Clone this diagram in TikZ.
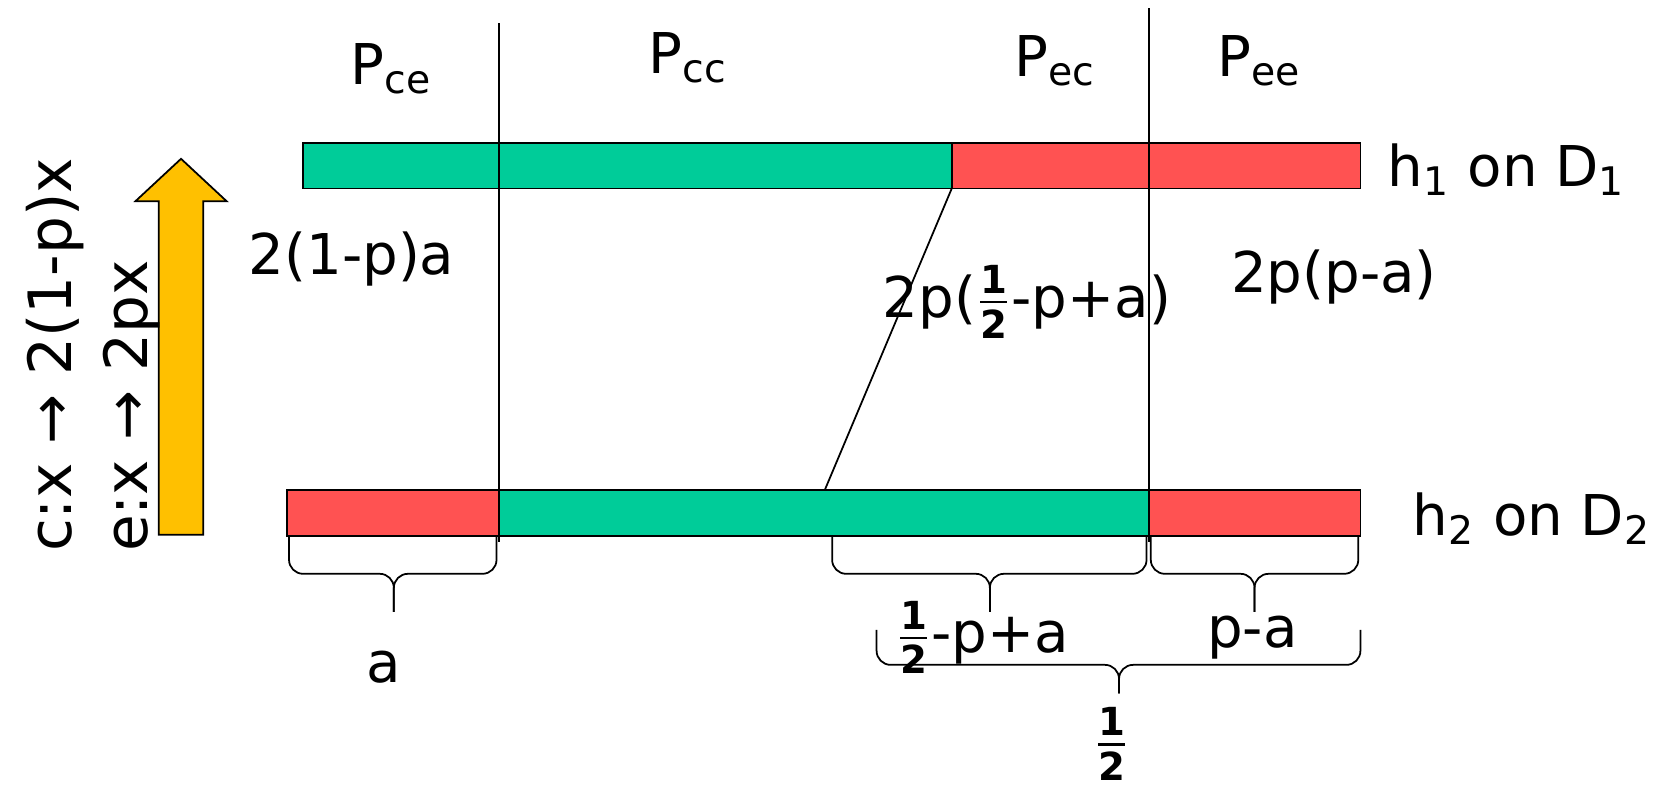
\documentclass[tikz,border=0pt]{standalone}
\usepackage{fontspec}
\setmainfont{DejaVu Sans}
\usepackage{amsmath}
\usetikzlibrary{positioning, calc}

% fraccion 1/2 en el tipo del texto
\newcommand{\halfsym}{$\frac{\text{\fontsize{11}{11}\selectfont\bfseries 1}}{\text{\fontsize{11}{11}\selectfont\bfseries 2}}$}

\begin{document}
\begin{tikzpicture}[x=0.010587cm, y=-0.010587cm, font=\fontsize{16}{19}\selectfont,
    seg/.style={draw=black, line width=0.5pt},
    lbl/.style={inner sep=0pt},
    brc/.style={draw, line width=0.5pt, rounded corners=4pt}
]

% Colores
\definecolor{hgreen}{RGB}{0, 204, 153}
\definecolor{hred}{RGB}{255, 82, 82}
\definecolor{hyellow}{RGB}{255, 192, 0}

% Llave plana: extremos x1, x2, punta xm, y del borde, y del tramo, y de la punta
\newcommand{\flatbrace}[6]{%
    \draw[brc] (#1,#4) -- (#1,#5) -- (#3,#5) -- (#3,#6);
    \draw[brc] (#2,#4) -- (#2,#5) -- (#3,#5) -- (#3,#6);
}

\useasboundingbox (0,0) rectangle (1568,744);

% ============ barra superior: h1 sobre D1 ============
\draw[seg, fill=hgreen] (286,135) rectangle (899,178);
\draw[seg, fill=hred] (899,135) rectangle (1285,178);
\coordinate (t1) at (899,178);

% ============ barra inferior: h2 sobre D2 ============
\draw[seg, fill=hred] (271,463) rectangle (471,506);
\draw[seg, fill=hgreen] (471,463) rectangle (1085,506);
\draw[seg, fill=hred] (1085,463) rectangle (1285,506);
\coordinate (b1) at (779,463);

% Lineas divisorias
\coordinate (v1top) at (471,22);
\coordinate (v1bot) at (471,512);
\coordinate (v2top) at (1085,8);
\coordinate (v2bot) at (1085,512);
\draw[seg] (v1top) -- (v1bot);
\draw[seg] (v2top) -- (v2bot);

% Correspondencia entre barras
\draw[seg] (t1) -- (b1);

% Titulos de las regiones
\node[lbl] (pce) at (370,65) {P\textsubscript{ce}};
\node[lbl] (pcc) at (650,55) {P\textsubscript{cc}};
\node[lbl] (pec) at (997,57) {P\textsubscript{ec}};
\node[lbl] (pee) at (1190,57) {P\textsubscript{ee}};

% Etiquetas de las barras
\node[lbl] (h1) at (1423,160) {h\textsubscript{1} on D\textsubscript{1}};
\node[lbl] (h2) at (1447,490) {h\textsubscript{2} on D\textsubscript{2}};

% Pesos
\node[lbl] (w1) at (332,245) {2(1-p)a};
\node[lbl] (w2) at (970,285) {2p(\halfsym-p+a)};
\node[lbl] (w3) at (1260,262) {2p(p-a)};

% Llaves
\flatbrace{273}{469}{372}{506}{542}{578}
\flatbrace{786}{1083}{935}{506}{542}{578}
\flatbrace{1087}{1283}{1185}{506}{542}{578}
\flatbrace{828}{1285}{1057}{595}{628}{655}

\node[lbl] (la) at (362,630) {a};
\node[lbl] (lb) at (928,602) {\halfsym-p+a};
\node[lbl] (lc) at (1183,602) {p-a};
\node[lbl] (ld) at (1050,703) {\halfsym};

% Flecha amarilla y reglas
\draw[seg, fill=hyellow] (150,505) -- (150,190) -- (128,190) -- (171,150)
    -- (214,190) -- (192,190) -- (192,505) -- cycle;
\node[lbl, rotate=90, anchor=west, font=\fontsize{17}{20}\selectfont] (rc) at (52,522) {c:x → 2(1-p)x};
\node[lbl, rotate=90, anchor=west, font=\fontsize{17}{20}\selectfont] (re) at (124,522) {e:x → 2px};

\end{tikzpicture}
\end{document}
